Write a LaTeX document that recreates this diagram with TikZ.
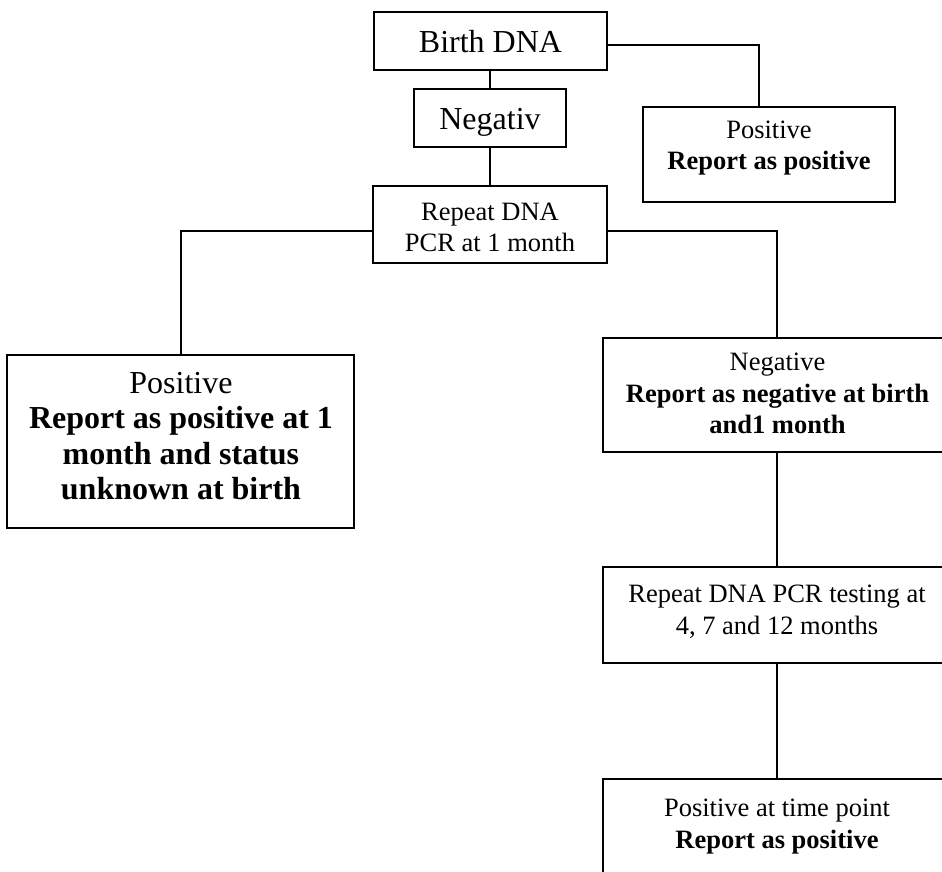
\documentclass[tikz,border=0pt]{standalone}
\usepackage{fontspec}
\setmainfont{Liberation Serif}
\begin{document}
\begin{tikzpicture}[x=1pt,y=-1pt,
  box/.style={draw, line width=2pt, rectangle, inner sep=0pt},
  lbl/.style={align=center, inner sep=0pt, font=\fontsize{26.5}{31.5}\selectfont},
  biglbl/.style={align=center, inner sep=0pt, font=\fontsize{32}{35.3}\selectfont},
  link/.style={line width=2pt}]
\useasboundingbox (0,0) rectangle (942,872);
\clip (0,0) rectangle (942,872);
% boxes
\node[box, minimum width=233pt, minimum height=58pt] (birth) at (490,41) {};
\node[box, minimum width=152pt, minimum height=58pt] (neg) at (490,118) {};
\node[box, minimum width=252pt, minimum height=95pt] (pos1) at (769,154.5) {};
\node[box, minimum width=234pt, minimum height=77pt] (rep) at (490,224.5) {};
\node[box, minimum width=347pt, minimum height=173pt] (left) at (180.5,441.5) {};
\node[box, minimum width=348pt, minimum height=114pt] (negbox) at (777,395) {};
\node[box, minimum width=348pt, minimum height=96pt] (test) at (777,615) {};
\node[box, minimum width=348pt, minimum height=141pt] (bot) at (777,849.5) {};
% texts
\node[biglbl] (birtht) at (490.5,42) {Birth DNA};
\node[biglbl] (negt) at (490,122.5) {Negativ};
\node[lbl] (pos1t) at (769,148) {Positive\\\textbf{Report as positive}};
\node[lbl] (rept) at (490,227.5) {Repeat DNA\\PCR at 1 month};
\node[biglbl] (leftt) at (181,436) {Positive\\\textbf{Report as positive at 1}\\\textbf{month and status}\\\textbf{unknown at birth}};
\node[lbl] (negboxt) at (777.5,393.5) {Negative\\\textbf{Report as negative at birth}\\\textbf{and1 month}};
\node[lbl] (testt) at (777,612) {Repeat DNA PCR testing at\\4, 7 and 12 months};
\node[lbl] (bott) at (777,826.5) {Positive at time point\\\textbf{Report as positive}};
% connectors
\draw[link] (birth.south) -- (neg.north);
\draw[link] (neg.south) -- (rep.north);
\draw[link] ([yshift=-4pt]birth.east) -| ([xshift=-10pt]pos1.north);
\draw[link] ([yshift=-6pt]rep.west) -| (left.north);
\draw[link] ([yshift=-6pt]rep.east) -| (negbox.north);
\draw[link] (negbox.south) -- (test.north);
\draw[link] (test.south) -- (bot.north);
\end{tikzpicture}
\end{document}
